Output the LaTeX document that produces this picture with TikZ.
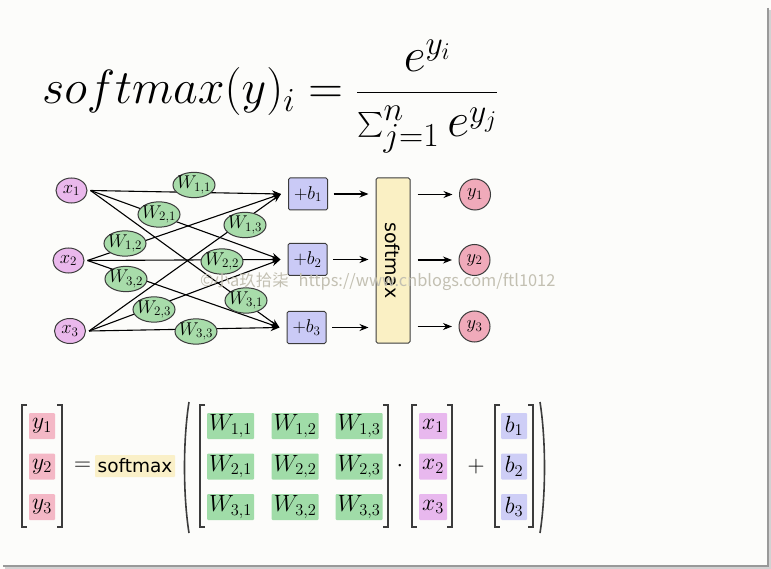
\RequirePackage{fix-cm}
\documentclass[tikz,border=0pt]{standalone}
\usepackage{amsmath}
\usepackage{fontspec}
\newfontfamily\cjkfont{Noto Sans CJK SC}
\newfontfamily\labelfont{DejaVu Sans}
\usetikzlibrary{arrows.meta,shapes.geometric,calc}
\definecolor{bgc}{RGB}{252,252,250}
\definecolor{xcol}{RGB}{234,184,236}
\definecolor{wcol}{RGB}{168,220,170}
\definecolor{bcol}{RGB}{202,202,246}
\definecolor{ycol}{RGB}{240,170,186}
\definecolor{scol}{RGB}{250,240,196}
\definecolor{bord}{RGB}{60,60,60}
\definecolor{hxc}{RGB}{232,184,238}
\definecolor{hwc}{RGB}{160,220,168}
\definecolor{hbc}{RGB}{206,206,246}
\definecolor{hyc}{RGB}{244,184,198}
\definecolor{hsc}{RGB}{250,240,200}
\definecolor{wmc}{RGB}{195,192,178}
\begin{document}
\begin{tikzpicture}[x=1pt,y=-1pt,
  netmath/.style={font=\fontsize{18.5}{22}\selectfont},
  xn/.style={ellipse, draw=bord, fill=xcol, line width=1pt, minimum width=31pt, minimum height=25pt, inner sep=0pt, netmath},
  wn/.style={ellipse, draw=bord, fill=wcol, line width=1pt, minimum width=42pt, minimum height=25pt, inner xsep=-3.5pt, inner ysep=0pt, netmath},
  bn/.style={rectangle, rounded corners=1.5pt, draw=bord, fill=bcol, line width=1pt, minimum width=39pt, minimum height=32pt, inner sep=0pt, netmath},
  yn/.style={circle, draw=bord, fill=ycol, line width=1pt, minimum size=31pt, inner sep=0pt, netmath},
  smbox/.style={rectangle, rounded corners=1.5pt, draw=bord, fill=scol, line width=1pt, minimum width=34pt, minimum height=165pt, inner sep=0pt},
  smtext/.style={rotate=-90, inner sep=0pt, font=\labelfont\fontsize{19}{22}\selectfont},
  edge/.style={line width=1.1pt, -{Stealth[length=9pt,width=7pt]}},
  hl/.style={rectangle, rounded corners=1pt, inner sep=0pt, minimum height=26pt, font=\fontsize{23.5}{28}\selectfont},
  hy/.style={hl, fill=hyc, minimum width=26pt},
  hw/.style={hl, fill=hwc, minimum width=47pt},
  hx/.style={hl, fill=hxc, minimum width=28pt},
  hb/.style={hl, fill=hbc, minimum width=26pt},
  brk/.style={line width=1.2pt, draw=bord},
  opm/.style={inner sep=0pt, font=\fontsize{23.5}{28}\selectfont}
]
% background and frame shadow
\fill[bgc] (0,0) rectangle (771,569);
\useasboundingbox (0,0) rectangle (771,569);
\draw[line width=1.5pt, gray!35] (770,10) -- (770,568) -- (5,568);
\draw[line width=2pt, gray!80] (768,8) -- (768,566) -- (3,566);

% formula
\node[anchor=base west, inner sep=0pt, font=\fontsize{48}{56}\selectfont] (formula) at (42,104)
  {$softmax(y)_i = \dfrac{e^{y_i}}{\sum_{j=1}^{n} e^{y_j}}$};

% network nodes
\node[xn] (x1) at (71.5,190.5) {$x_1$};
\node[xn] (x2) at (68.5,260.5) {$x_2$};
\node[xn] (x3) at (70,331) {$x_3$};
\node[bn] (b1) at (308,194) {$+b_1$};
\node[bn] (b2) at (307.5,259.5) {$+b_2$};
\node[bn] (b3) at (306.5,327.5) {$+b_3$};
\node[smbox] (sm) at (393,260.5) {};
\node[smtext] (smt) at (sm.center) {softmax};
\node[yn] (y1) at (475,194.5) {$y_1$};
\node[yn] (y2) at (474.5,260) {$y_2$};
\node[yn] (y3) at (474.5,326.5) {$y_3$};

% weighted connections
\foreach \i in {1,2,3}{
  \foreach \j in {1,2,3}{
    \draw[edge] ([xshift=3pt]x\i.east) -- ([xshift=-7pt]b\j.west);
  }
}
\node[wn] (w11) at (194,185) {$W_{1,1}$};
\node[wn] (w21) at (159,214.5) {$W_{2,1}$};
\node[wn] (w12) at (125,243.5) {$W_{1,2}$};
\node[wn] (w13) at (245,225) {$W_{1,3}$};
\node[wn] (w22) at (222,261.5) {$W_{2,2}$};
\node[wn] (w32) at (126,279) {$W_{3,2}$};
\node[wn] (w31) at (246,300.5) {$W_{3,1}$};
\node[wn] (w23) at (154,309.5) {$W_{2,3}$};
\node[wn] (w33) at (196,331.5) {$W_{3,3}$};

% bias -> softmax -> outputs
\foreach \k in {1,2,3}{
  \draw[edge, shorten <=5.5pt, shorten >=7pt] (b\k.east) -- (b\k.east -| sm.west);
  \draw[edge, shorten <=7pt, shorten >=6.5pt] (sm.east |- y\k.center) -- (y\k.west);
}

% watermark
\node[anchor=west, inner sep=0pt, text=wmc, font=\cjkfont\fontsize{16.4}{18}\selectfont] (wm) at (200,282)
  {©小a玖拾柒\hspace{10pt}https://www.cnblogs.com/ftl1012};

% matrix equation
\node[hy] (my1) at (42,426) {$y_1$};
\node[hy] (my2) at (42,466.5) {$y_2$};
\node[hy] (my3) at (42,507) {$y_3$};
\draw[brk] (27,405) -- (22,405) -- (22,527) -- (27,527);
\draw[brk] (57,405) -- (62,405) -- (62,527) -- (57,527);
\node[opm] (eq) at (82.5,466.5) {$=$};
\node[rectangle, rounded corners=1pt, fill=hsc, inner sep=0pt, minimum width=80pt, minimum height=22pt,
      font=\labelfont\fontsize{18.5}{22}\selectfont] (smw) at (135,466) {softmax};
\draw[line width=1.6pt, draw=bord] (189,402) .. controls (183,440) and (183,495) .. (189,533);
\foreach \r/\yy in {1/426,2/466.5,3/507}{
  \node[hw] (mw\r1) at (230.5,\yy) {$W_{\r,1}$};
  \node[hw] (mw\r2) at (295,\yy) {$W_{\r,2}$};
  \node[hw] (mw\r3) at (359,\yy) {$W_{\r,3}$};
  \node[hx] (mx\r) at (433,\yy) {$x_\r$};
  \node[hb] (mb\r) at (514,\yy) {$b_\r$};
}
\draw[brk] (205,405) -- (200,405) -- (200,527) -- (205,527);
\draw[brk] (383,405) -- (388,405) -- (388,527) -- (383,527);
\node[opm] (dot) at (400,466.5) {$\cdot$};
\draw[brk] (417,405) -- (412,405) -- (412,527) -- (417,527);
\draw[brk] (447,405) -- (452,405) -- (452,527) -- (447,527);
\node[opm] (plus) at (476,466.5) {$+$};
\draw[brk] (500,405) -- (495,405) -- (495,527) -- (500,527);
\draw[brk] (528,405) -- (533,405) -- (533,527) -- (528,527);
\draw[line width=1.6pt, draw=bord] (540,402) .. controls (546,440) and (546,495) .. (540,533);
\end{tikzpicture}
\end{document}
